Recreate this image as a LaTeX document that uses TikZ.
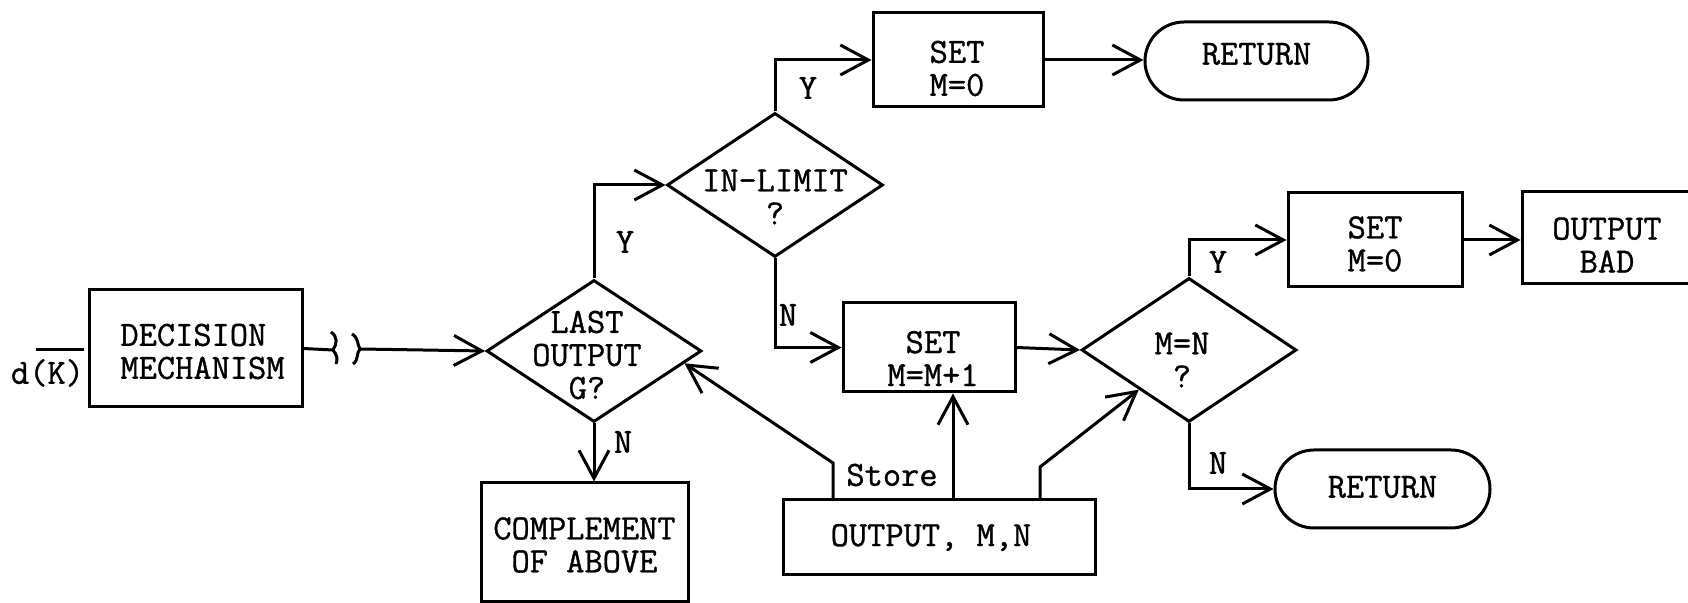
\documentclass[tikz,border=0pt]{standalone}
\usepackage{fontspec}
\newfontfamily\twfont{Latin Modern Mono}[FakeBold=1]
\usetikzlibrary{arrows.meta,shapes.geometric,calc}
\begin{document}
\begin{tikzpicture}[x=0.5pt,y=-0.5pt,
  line width=1.5pt,
  txt/.style={font={\twfont\fontsize{17.7}{16.5}\selectfont}, align=center},
  box/.style={draw, rectangle, inner sep=0pt},
  pill/.style={draw, rectangle, rounded corners=19.5pt, inner sep=0pt},
  dia/.style={draw, diamond, inner sep=0pt},
  arr/.style={-{Straight Barb[length=14pt,width=15pt]}},
  lbl/.style={txt, inner sep=0pt}]

\useasboundingbox (0,0) rectangle (1688,603);

% boxes (text as centred labels, shifted as printed)
\node[box, minimum width=106.5pt, minimum height=58.5pt,
  label={[txt,align=left,xshift=3.5pt,yshift=-1.5pt]center:DECISION\\MECHANISM}] (dec) at (195.5,348.5) {};
\node[box, minimum width=85pt, minimum height=47pt,
  label={[txt,xshift=-0.5pt,yshift=-4.25pt]center:SET\\M=0}] (setA) at (958,60) {};
\node[pill, minimum width=111.5pt, minimum height=39pt,
  label={[txt,yshift=3.5pt]center:RETURN}] (ret1) at (1256.5,61) {};
\node[box, minimum width=86pt, minimum height=44.5pt,
  label={[txt,xshift=2pt,yshift=-5.5pt]center:SET\\M=M+1}] (setB) at (929,347.5) {};
\node[box, minimum width=87pt, minimum height=47pt,
  label={[txt,yshift=-2pt]center:SET\\M=0}] (setC) at (1375,240) {};
\node[box, minimum width=89pt, minimum height=46pt,
  label={[txt,xshift=-2pt,yshift=-3.5pt]center:OUTPUT\\BAD}] (bad) at (1611,238) {};
\node[box, minimum width=103.5pt, minimum height=59.5pt,
  label={[txt,yshift=-1.25pt]center:COMPLEMENT\\OF ABOVE}] (comp) at (584.5,542.5) {};
\node[box, minimum width=156pt, minimum height=37.5pt,
  label={[txt,xshift=-4pt]center:OUTPUT, M,N}] (out) at (939,537.5) {};
\node[pill, minimum width=107.5pt, minimum height=39pt,
  label={[txt,yshift=1pt]center:RETURN}] (ret2) at (1382.5,489) {};

% decisions
\node[dia, minimum width=107.5pt, minimum height=71pt,
  label={[txt,xshift=-3.5pt,yshift=-2pt]center:LAST\\OUTPUT\\G?}] (last) at (594,351) {};
\node[dia, minimum width=108pt, minimum height=72pt,
  label={[txt,yshift=-6pt]center:IN-LIMIT\\?}] (inlim) at (775,185) {};
\node[dia, minimum width=107.5pt, minimum height=72pt,
  label={[txt,xshift=-3.5pt,yshift=-5pt]center:M=N\\?}] (mn) at (1189,350) {};

% labels
\node[lbl] (y1) at (625,242) {Y};
\node[lbl] (y2) at (808,88) {Y};
\node[lbl] (n1) at (788,315) {N};
\node[lbl] (n2) at (623,442) {N};
\node[lbl] (y3) at (1218,262) {Y};
\node[lbl] (n3) at (1218,463) {N};
\node[lbl] (store) at (892,475) {Store};
\node[lbl] (dk) at (47.5,373) {d(K)};

% input bar
\coordinate (dka) at (36,350);
\coordinate (dkb) at (84,350);
\draw (dka) -- (dkb);

% break in the line
\coordinate (sqa) at (333,350);
\coordinate (sqb) at (360,349);
\draw (dec.east) -- (sqa);
\draw (331,332) .. controls (338,337) and (337,344) .. (333,350)
      .. controls (337,355) and (338,359) .. (336,364);
\draw (352,334) .. controls (359,338) and (357,345) .. (360,349)
      .. controls (356,353) and (359,360) .. (353,364);
\draw[arr] (sqb) -- (last.west);

% flow
\draw[arr] (last.north) |- (inlim.west);
\draw[arr] (inlim.north) |- (setA.west);
\draw[arr] (setA.east) -- (setA.east -| ret1.west);
\draw[arr] (inlim.south) |- (setB.west);
\draw[arr] (last.south) -- (last.south |- comp.north);
\draw[arr] (setB.east) -- (mn.west);
\draw[arr] (mn.north) |- (setC.west);
\draw[arr] (setC.east) -- (setC.east -| bad.west);
\draw[arr] (mn.south) |- (ret2.west);

% store feedback
\coordinate (bendS) at (833,463);
\coordinate (bendM) at (1040,467);
\draw[arr] (out.north -| 833,0) -- (bendS) -- ($(last.east)!0.17!(last.south)$);
\draw[arr] (out.north -| 953,0) -- (setB.south -| 953,0);
\draw[arr] (out.north -| 1040,0) -- (bendM) -- ($(mn.west)!0.54!(mn.south)$);
\end{tikzpicture}
\end{document}
